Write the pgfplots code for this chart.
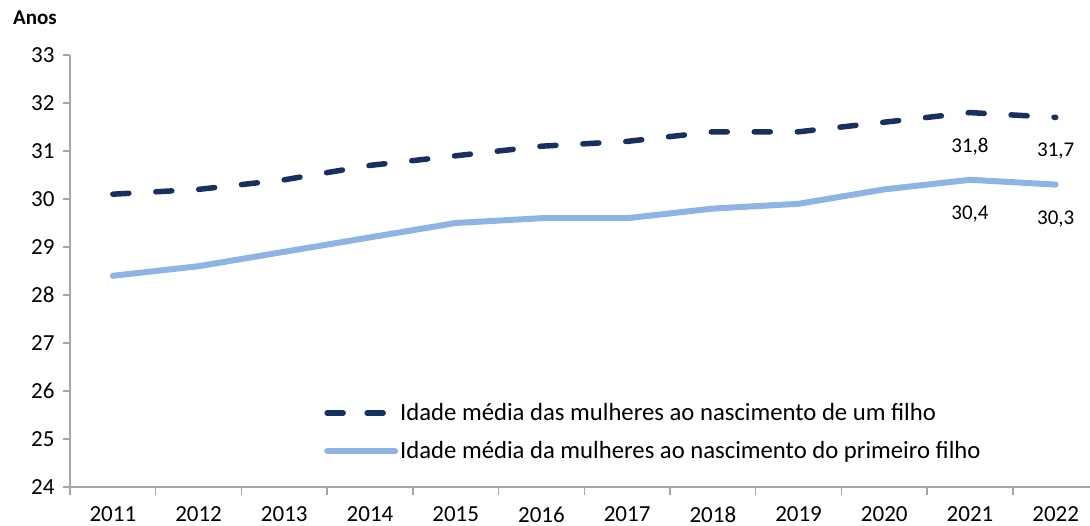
\documentclass[border=0pt]{standalone}
\usepackage{pgfplots}
\pgfplotsset{compat=1.18}
\usepackage{fontspec}
\setmainfont{Carlito}
\definecolor{navy}{HTML}{17305F}
\definecolor{lblue}{HTML}{8DB4E2}
\definecolor{axgray}{HTML}{A6A6A6}
\begin{document}
\begin{tikzpicture}
\path[use as bounding box] (0,0) rectangle (1090pt,526pt);
\node[font=\fontsize{21}{25}\selectfont\bfseries] at (35pt,508pt) {Anos};
\begin{axis}[
  at={(70pt,39pt)}, anchor=south west,
  scale only axis, width=1020pt, height=432pt,
  xmin=-0.5, xmax=11.4, ymin=24, ymax=33,
  axis lines*=left,
  axis line style={draw=axgray, line width=1.5pt},
  every tick/.style={draw=axgray, line width=1.5pt},
  tick align=outside,
  xtick={0,...,11},
  xticklabels={2011,2012,2013,2014,2015,2016,2017,2018,2019,2020,2021,2022},
  major x tick style={draw=none},
  minor xtick={-0.5,0.5,...,10.5},
  minor tick length=8pt,
  major tick length=7pt,
  ytick={24,...,33},
  tick label style={font=\fontsize{23}{27}\selectfont},
  /pgf/number format/assume math mode=true,
  /pgf/number format/use comma,
  xticklabel style={yshift=-9pt},
  yticklabel style={xshift=-5pt},
  legend style={at={(0.249,0.198)}, anchor=north west, draw=none, fill=none,
    font=\fontsize{24.7}{28}\selectfont, inner sep=0pt, row sep=15.5pt},
  legend cell align=left,
  clip=false,
]
\addplot[navy, line width=5.5pt, line cap=round, dash pattern=on 16pt off 27pt, sharp plot,
  legend image code/.code={\draw[navy, line width=5.5pt, line cap=round] (6pt,0pt) -- (24pt,0pt) (46pt,0pt) -- (64pt,0pt);}]
coordinates {(0,30.1) (1,30.2) (2,30.4) (3,30.7) (4,30.9) (5,31.1) (6,31.2) (7,31.4) (8,31.4) (9,31.6) (10,31.8) (11,31.7)};
\addlegendentry{Idade média das mulheres ao nascimento de um filho}
\addplot[lblue, line width=6pt, line cap=round, line join=round, sharp plot,
  legend image code/.code={\draw[lblue, line width=6pt, line cap=round] (6pt,0pt) -- (74pt,0pt);}]
coordinates {(0,28.4) (1,28.6) (2,28.9) (3,29.2) (4,29.5) (5,29.6) (6,29.6) (7,29.8) (8,29.9) (9,30.2) (10,30.4) (11,30.3)};
\addlegendentry{Idade média da mulheres ao nascimento do primeiro filho}
\addplot[draw=none, forget plot, nodes near coords,
  every node near coord/.style={anchor=center, yshift=-34pt, font=\fontsize{21}{25}\selectfont},
  /pgf/number format/.cd, fixed, fixed zerofill, precision=1, use comma, assume math mode=true]
coordinates {(10,31.8) (11,31.7) (10,30.4) (11,30.3)};
\end{axis}
\end{tikzpicture}
\end{document}
